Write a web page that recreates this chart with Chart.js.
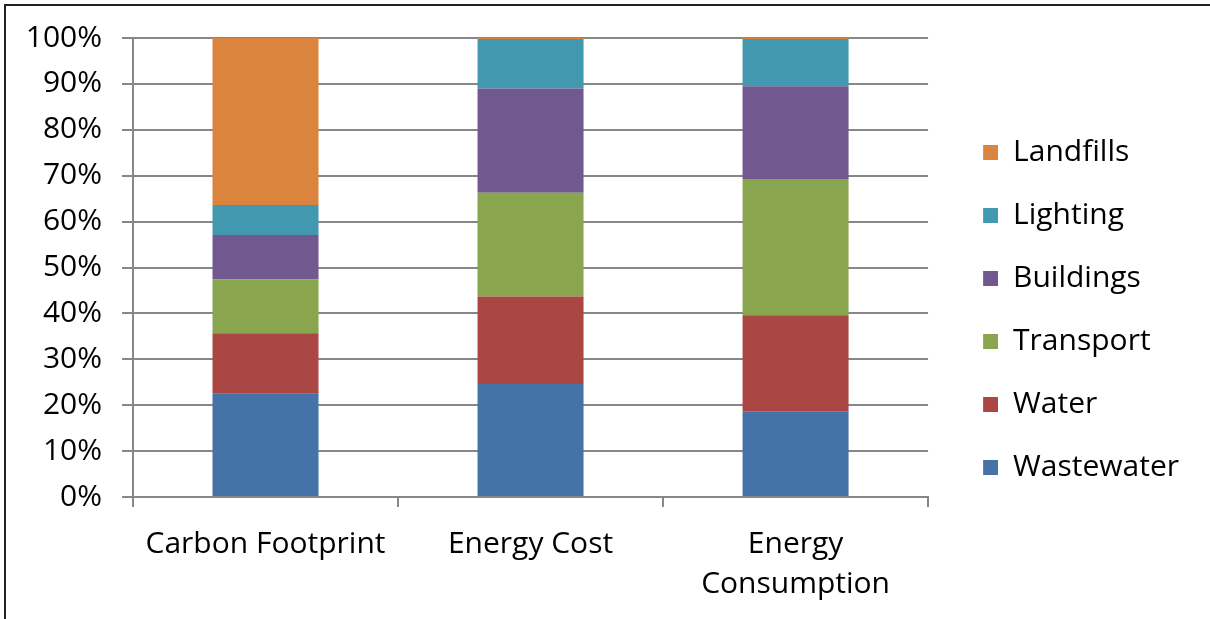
<!DOCTYPE html>
<html>
<head>
<meta charset="utf-8">
<script src="https://cdn.jsdelivr.net/npm/chart.js@4.4.0/dist/chart.umd.min.js"></script>
<style>
  html, body { margin: 0; padding: 0; background: #fff; }
  #wrap { position: relative; width: 1210px; height: 619px; overflow: hidden; }
  #frame { position: absolute; left: 4px; top: 4px; right: -10px; bottom: -10px;
           border-left: 2px solid #222; border-top: 2px solid #222; pointer-events: none; }
  canvas { position: absolute; left: 0; top: 0; }
</style>
</head>
<body>
<div id="wrap">
  <canvas id="c" width="1210" height="619"></canvas>
  <div id="frame"></div>
</div>
<script>
const categories = ['Carbon Footprint', 'Energy Cost', ['Energy', 'Consumption']];
const yTicks = [0, 10, 20, 30, 40, 50, 60, 70, 80, 90, 100];

const wastewater = [22.5, 24.6, 18.6];
const water      = [13.2, 19.1, 21.0];
const transport  = [11.7, 22.6, 29.7];
const buildings  = [9.7, 22.7, 20.2];
const lighting   = [6.5, 10.8, 10.3];
const landfills  = [36.4, 0.2, 0.2];

const seriesNames  = ['Wastewater', 'Water', 'Transport', 'Buildings', 'Lighting', 'Landfills'];
const seriesValues = [wastewater, water, transport, buildings, lighting, landfills];
const seriesColors = ['#4572A7', '#AA4643', '#89A54E', '#71588F', '#4198AF', '#DB843D'];

const FONT = 'Open Sans';
const GRID = '#878787';
const SW_GAP = 22, SW = 15;
Chart.defaults.color = '#000';
Chart.defaults.font.family = FONT;

function makeSwatch(color) {
  const c = document.createElement('canvas');
  c.width = SW_GAP + SW; c.height = SW;
  const g = c.getContext('2d');
  g.fillStyle = color;
  g.fillRect(SW_GAP, 0, SW, SW);
  return c;
}
const swatches = seriesColors.map(makeSwatch);

new Chart(document.getElementById('c'), {
  type: 'bar',
  data: {
    labels: categories,
    datasets: seriesNames.map((n, i) => ({
      label: n,
      data: seriesValues[i],
      backgroundColor: seriesColors[i],
      borderWidth: 0,
      categoryPercentage: 1.0,
      barPercentage: 0.4
    }))
  },
  options: {
    responsive: false,
    animation: false,
    devicePixelRatio: 1,
    layout: { padding: { top: 0, bottom: 0, left: 0, right: 21 } },
    plugins: {
      tooltip: { enabled: false },
      legend: {
        position: 'right',
        reverse: true,
        labels: {
          usePointStyle: true,
          pointStyleWidth: SW_GAP + SW,
          boxHeight: SW,
          padding: 33,
          color: '#000',
          font: { family: FONT, size: 30 },
          generateLabels: chart => {
            const items = Chart.defaults.plugins.legend.labels.generateLabels(chart);
            items.forEach(it => { it.pointStyle = swatches[it.datasetIndex]; });
            return items;
          }
        }
      }
    },
    scales: {
      x: {
        stacked: true,
        grid: { offset: true, drawOnChartArea: false, drawTicks: true, tickLength: 10, color: GRID, lineWidth: 2 },
        border: { display: true, color: GRID, width: 2 },
        ticks: { font: { family: FONT, size: 30, lineHeight: 1.33 }, padding: 18, color: '#000', maxRotation: 0, autoSkip: false },
        afterFit: s => { s.height = 122; }
      },
      xTop: {
        type: 'linear',
        axis: 'x',
        position: 'top',
        display: true,
        grid: { display: false },
        border: { display: false },
        ticks: { display: false },
        afterFit: s => { s.height = 32; }
      },
      y: {
        stacked: true,
        min: 0, max: 100,
        afterBuildTicks: s => { s.ticks = yTicks.map(v => ({ value: v })); },
        grid: { color: GRID, lineWidth: 2, tickLength: 11 },
        border: { display: true, color: GRID, width: 2 },
        ticks: { font: { family: FONT, size: 30 }, padding: 20, color: '#000', callback: v => v + '%' },
        afterFit: s => { s.width = 133; }
      }
    }
  }
});
</script>
</body>
</html>
